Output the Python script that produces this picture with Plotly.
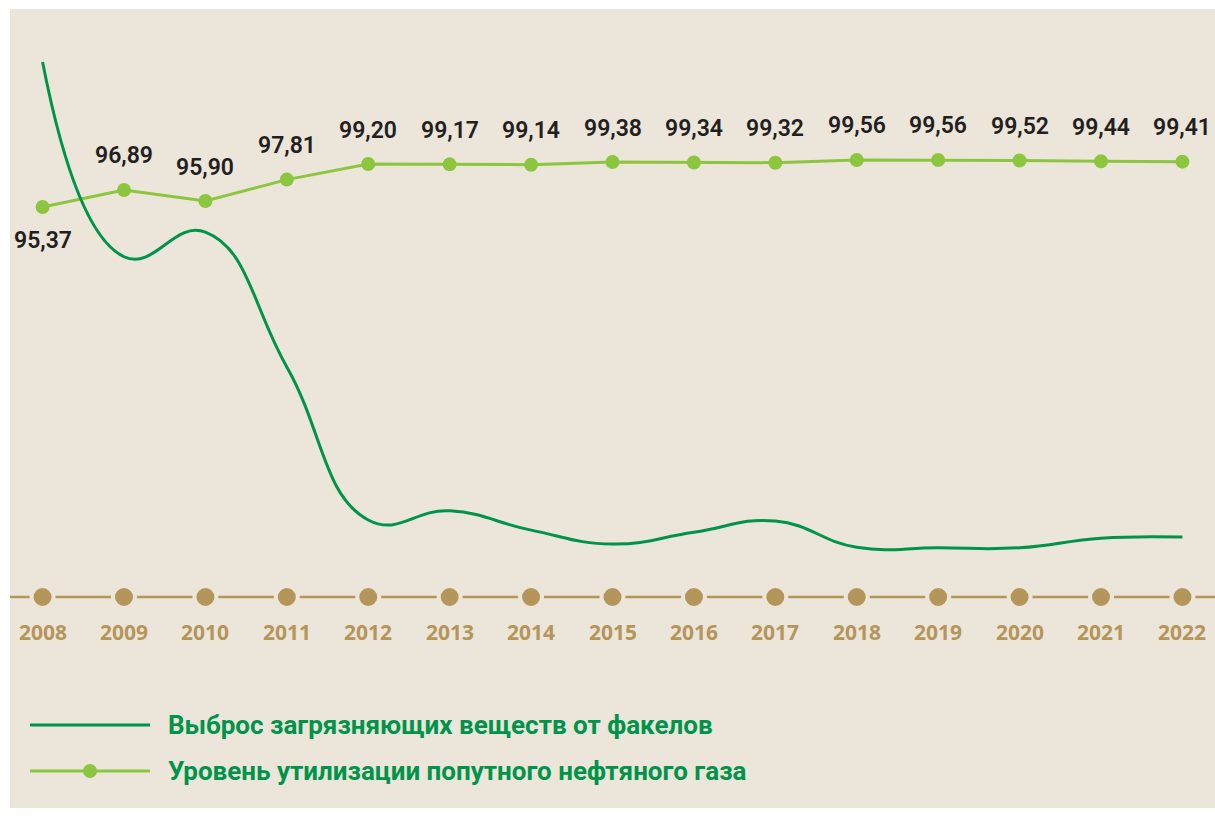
import plotly.graph_objects as go

years = [2008, 2009, 2010, 2011, 2012, 2013, 2014, 2015, 2016, 2017, 2018, 2019, 2020, 2021, 2022]
utilization = [95.37, 96.89, 95.90, 97.81, 99.20, 99.17, 99.14, 99.38, 99.34, 99.32, 99.56, 99.56, 99.52, 99.44, 99.41]
utilization_labels = ["95,37", "96,89", "95,90", "97,81", "99,20", "99,17", "99,14", "99,38",
                      "99,34", "99,32", "99,56", "99,56", "99,52", "99,44", "99,41"]
# flare emissions, relative index (2008 = 100)
emissions = [100, 63.6, 68.2, 43.0, 14.4, 16.1, 12.5, 9.9, 12.1, 14.2, 9.3, 9.2, 9.2, 11.0, 11.2]
axis_base = [0] * len(years)
year_labels = [str(y) for y in years]

legend_names = ["Выброс загрязняющих веществ от факелов",
                "Уровень утилизации попутного нефтяного газа"]

BG = "#ECE5DA"
DARK_GREEN = "#00934A"
LIGHT_GREEN = "#8CC63F"
BROWN = "#B5965A"
TEXT_DARK = "#231F20"

fig = go.Figure()

# axis markers (brown dots along baseline)
fig.add_trace(go.Scatter(
    x=years, y=axis_base, yaxis="y2", mode="markers",
    marker=dict(size=22, color=BROWN, line=dict(color=BG, width=4)),
    hoverinfo="skip", showlegend=False,
))

fig.add_trace(go.Scatter(
    x=years, y=emissions, yaxis="y2", mode="lines",
    line=dict(color=DARK_GREEN, width=3, shape="spline", smoothing=1.3),
    name=legend_names[0], showlegend=False,
))

fig.add_trace(go.Scatter(
    x=years, y=utilization, mode="lines+markers",
    line=dict(color=LIGHT_GREEN, width=3),
    marker=dict(size=14, color=LIGHT_GREEN),
    name=legend_names[1], showlegend=False,
))

annotations = []
for i, (yr, v, lab) in enumerate(zip(years, utilization, utilization_labels)):
    annotations.append(dict(
        x=yr, y=v, xref="x", yref="y", text=lab, showarrow=False,
        yshift=-34 if i == 0 else 34,
        font=dict(family="Roboto", size=23, color=TEXT_DARK, weight=600),
    ))
for yr, lab in zip(years, year_labels):
    annotations.append(dict(
        x=yr, y=0, xref="x", yref="y2", text=lab, showarrow=False, yshift=-35,
        font=dict(family="Open Sans", size=21, color=BROWN, weight=700),
    ))

# legend (drawn manually)
def px_x(p):
    return (p - 10) / 1205

def px_y(p):
    return (808 - p) / 799

legend_y = [725, 771]
for ly, name in zip(legend_y, legend_names):
    annotations.append(dict(
        x=px_x(166), y=px_y(ly), xref="paper", yref="paper", text="<b>" + name + "</b>",
        showarrow=False, xanchor="left", yanchor="middle",
        font=dict(family="Roboto", size=26, color=DARK_GREEN),
    ))

shapes = [
    dict(type="line", xref="paper", yref="y2", x0=0, x1=1, y0=0, y1=0,
         line=dict(color=BROWN, width=2.5), layer="below"),
    dict(type="line", xref="paper", yref="paper", x0=px_x(30), x1=px_x(150),
         y0=px_y(legend_y[0]), y1=px_y(legend_y[0]), line=dict(color=DARK_GREEN, width=3)),
    dict(type="line", xref="paper", yref="paper", x0=px_x(30), x1=px_x(150),
         y0=px_y(legend_y[1]), y1=px_y(legend_y[1]), line=dict(color=LIGHT_GREEN, width=3)),
    dict(type="circle", xref="paper", yref="paper", xsizemode="pixel", ysizemode="pixel",
         xanchor=px_x(90), yanchor=px_y(legend_y[1]), x0=-7, x1=7, y0=-7, y1=7,
         fillcolor=LIGHT_GREEN, line=dict(width=0)),
]

fig.update_layout(
    width=1215, height=818,
    margin=dict(l=10, r=0, t=9, b=10, pad=0),
    paper_bgcolor="white", plot_bgcolor=BG,
    xaxis=dict(range=[2007.6, 2022.4], visible=False, fixedrange=True),
    yaxis=dict(range=[41.79, 113.02], visible=False, fixedrange=True),
    yaxis2=dict(range=[-39.44, 109.91], visible=False, overlaying="y", fixedrange=True),
    annotations=annotations, shapes=shapes,
    showlegend=False,
)

fig.write_html("out.html", config={"displayModeBar": False},
               post_script="document.body.style.margin='0px';")
